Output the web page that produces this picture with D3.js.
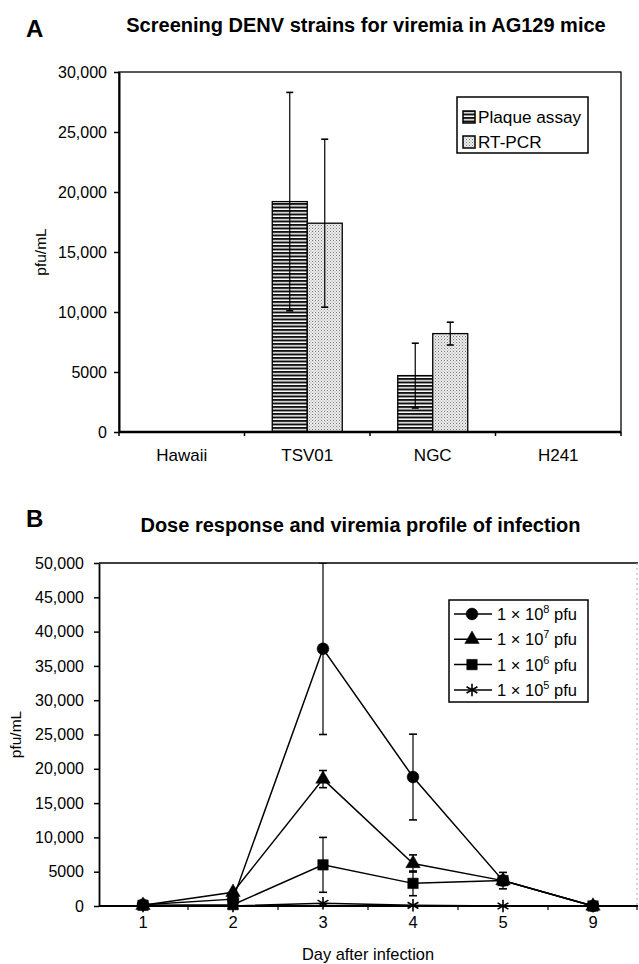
<!DOCTYPE html>
<html>
<head>
<meta charset="utf-8">
<script src="https://cdn.jsdelivr.net/npm/d3@7"></script>
<style>
    body { margin: 0; background: #fff; }
    svg { display: block; font-family: "Liberation Sans", Arial, sans-serif; }
</style>
</head>
<body>
<div id="figure"></div>
<script>
// Panel A data
const strains = ["Hawaii", "TSV01", "NGC", "H241"];
const methods = ["Plaque assay", "RT-PCR"];
const plaqueValues = [0, 19200, 4700, 0];
const plaqueErrors = [0, 9100, 2700, 0];
const rtpcrValues = [0, 17400, 8200, 0];
const rtpcrErrors = [0, 7000, 950, 0];
const ticksA = [0, 5000, 10000, 15000, 20000, 25000, 30000];

// Panel B data
const days = ["1", "2", "3", "4", "5", "9"];
const doseLabels = ["8", "7", "6", "5"];
const dose8 = [200, 1000, 37500, 18800, 3700, 0];
const dose8Err = [0, 0, 12500, 6250, 0, 0];
const dose7 = [100, 2000, 18500, 6200, 3700, 0];
const dose7Err = [0, 0, 1250, 1250, 0, 0];
const dose6 = [100, 200, 6000, 3300, 3700, 0];
const dose6Err = [0, 0, 4000, 1800, 1200, 0];
const dose5 = [0, 0, 400, 100, 0, 0];
const dose5Err = [0, 0, 0, 0, 0, 0];
const ticksB = [0, 5000, 10000, 15000, 20000, 25000, 30000, 35000, 40000, 45000, 50000];

const width = 639;
const height = 964;
const tickFmt = d => d >= 10000 ? d3.format(",")(d) : String(d);

const svg = d3.select("#figure")
    .append("svg")
    .attr("width", width)
    .attr("height", height)
    .attr("viewBox", `0, 0, ${width}, ${height}`);

// patterns for bars
const defs = svg.append("defs");
const stripes = defs.append("pattern")
    .attr("id", "stripes")
    .attr("patternUnits", "userSpaceOnUse")
    .attr("width", 6)
    .attr("height", 3.5);
stripes.append("rect").attr("width", 6).attr("height", 3.5).attr("fill", "#fff");
stripes.append("rect").attr("width", 6).attr("height", 2).attr("fill", "#111");

const dots = defs.append("pattern")
    .attr("id", "dots")
    .attr("patternUnits", "userSpaceOnUse")
    .attr("width", 3)
    .attr("height", 3);
dots.append("rect").attr("width", 3).attr("height", 3).attr("fill", "#eee");
dots.append("rect").attr("x", 0).attr("y", 0).attr("width", 1).attr("height", 1).attr("fill", "#777");
dots.append("rect").attr("x", 1.5).attr("y", 1.5).attr("width", 1).attr("height", 1).attr("fill", "#999");

const drawPanelA = () => {
    const left = 119, right = 621, top = 72, bottom = 432;
    const g = svg.append("g").attr("class", "panel-a");

    g.append("text")
        .text("A")
        .attr("x", 26).attr("y", 37)
        .attr("font-size", 24).attr("font-weight", "bold");
    g.append("text")
        .text("Screening DENV strains for viremia in AG129 mice")
        .attr("x", (124 + 608) / 2).attr("y", 32)
        .attr("text-anchor", "middle")
        .attr("font-size", 20).attr("font-weight", "bold");

    const xScale = d3.scaleBand().domain(strains).range([left, right]);
    const xInner = d3.scaleBand().domain(methods).range([0, 70]);
    const yScale = d3.scaleLinear().domain([0, 30000]).range([bottom, top]);

    // frame
    g.append("rect")
        .attr("x", left).attr("y", top)
        .attr("width", right - left).attr("height", bottom - top)
        .attr("fill", "none").attr("stroke", "#000").attr("stroke-width", 1.3);

    const leftAxis = d3.axisLeft(yScale)
        .tickValues(ticksA)
        .tickFormat(tickFmt)
        .tickSizeInner(5).tickSizeOuter(0)
        .tickPadding(7);
    const axisY = g.append("g")
        .attr("transform", `translate(${left}, 0)`)
        .call(leftAxis);
    axisY.select(".domain").attr("stroke-width", 2);
    axisY.selectAll("text").attr("font-size", 16).attr("font-family", "Liberation Sans, Arial").attr("fill", "#000");
    axisY.selectAll("line").attr("stroke-width", 1.5);

    g.append("text")
        .text("pfu/mL")
        .attr("transform", `translate(46, ${(top + bottom) / 2}) rotate(-90)`)
        .attr("text-anchor", "middle")
        .attr("font-size", 15.5);

    // bars
    const series = [
        { key: methods[0], values: plaqueValues, errors: plaqueErrors, fill: "url(#stripes)" },
        { key: methods[1], values: rtpcrValues, errors: rtpcrErrors, fill: "url(#dots)" }
    ];
    const off = (xScale.bandwidth() - 70) / 2;
    series.forEach(s => {
        const rows = strains.map((st, i) => ({ strain: st, v: s.values[i], e: s.errors[i] })).filter(d => d.v > 0);
        g.append("g")
            .selectAll("rect")
            .data(rows)
            .join("rect")
            .attr("x", d => xScale(d.strain) + off + xInner(s.key))
            .attr("y", d => yScale(d.v))
            .attr("width", xInner.bandwidth())
            .attr("height", d => yScale(0) - yScale(d.v))
            .attr("fill", s.fill)
            .attr("stroke", "#000")
            .attr("stroke-width", 1.3);

        const err = g.append("g")
            .selectAll("g")
            .data(rows)
            .join("g")
            .attr("transform", d => `translate(${xScale(d.strain) + off + xInner(s.key) + xInner.bandwidth() / 2}, 0)`);
        err.append("line")
            .attr("y1", d => yScale(d.v + d.e)).attr("y2", d => yScale(d.v - d.e))
            .attr("stroke", "#000").attr("stroke-width", 1.2);
        err.append("line")
            .attr("x1", -3.5).attr("x2", 3.5)
            .attr("y1", d => yScale(d.v + d.e)).attr("y2", d => yScale(d.v + d.e))
            .attr("stroke", "#000").attr("stroke-width", 1.6);
        err.append("line")
            .attr("x1", -3.5).attr("x2", 3.5)
            .attr("y1", d => yScale(d.v - d.e)).attr("y2", d => yScale(d.v - d.e))
            .attr("stroke", "#000").attr("stroke-width", 1.6);
    });

    // x axis
    g.append("line")
        .attr("x1", left).attr("x2", right)
        .attr("y1", bottom).attr("y2", bottom)
        .attr("stroke", "#000").attr("stroke-width", 2.5);
    const bounds = strains.map(s => xScale(s)).concat([right]);
    g.append("g")
        .selectAll("line")
        .data(bounds)
        .join("line")
        .attr("x1", d => d).attr("x2", d => d)
        .attr("y1", bottom).attr("y2", bottom + 4)
        .attr("stroke", "#000").attr("stroke-width", 1.5);
    g.append("g")
        .selectAll("text")
        .data(strains)
        .join("text")
        .text(d => d)
        .attr("x", d => xScale(d) + xScale.bandwidth() / 2)
        .attr("y", 461)
        .attr("text-anchor", "middle")
        .attr("font-size", 17);

    // legend
    const legend = g.append("g").attr("transform", "translate(457, 97)");
    legend.append("rect")
        .attr("width", 131).attr("height", 56)
        .attr("fill", "#fff").attr("stroke", "#000").attr("stroke-width", 1.5);
    series.forEach((s, i) => {
        const row = legend.append("g").attr("transform", `translate(6, ${20 + i * 25})`);
        row.append("rect")
            .attr("x", 0).attr("y", -6).attr("width", 12).attr("height", 12)
            .attr("fill", s.fill).attr("stroke", "#000").attr("stroke-width", 1.5);
        row.append("text")
            .text(s.key)
            .attr("x", 15).attr("y", 6)
            .attr("font-size", 17.2);
    });
};

const drawPanelB = () => {
    const left = 99, right = 638, top = 563, bottom = 906;
    const g = svg.append("g").attr("class", "panel-b");

    g.append("text")
        .text("B")
        .attr("x", 26).attr("y", 527)
        .attr("font-size", 24).attr("font-weight", "bold");
    g.append("text")
        .text("Dose response and viremia profile of infection")
        .attr("x", (132 + 589) / 2).attr("y", 532)
        .attr("text-anchor", "middle")
        .attr("font-size", 20).attr("font-weight", "bold");

    const xScale = d3.scaleBand().domain(days).range([left - 1, right]);
    const yScale = d3.scaleLinear().domain([0, 50000]).range([bottom, top]);

    g.append("line")
        .attr("x1", left).attr("x2", right)
        .attr("y1", top).attr("y2", top)
        .attr("stroke", "#000").attr("stroke-width", 1.5);
    g.append("line")
        .attr("x1", right - 1).attr("x2", right - 1)
        .attr("y1", top).attr("y2", bottom)
        .attr("stroke", "#aaa").attr("stroke-width", 1)
        .attr("stroke-dasharray", "2,3");

    const leftAxis = d3.axisLeft(yScale)
        .tickValues(ticksB)
        .tickFormat(tickFmt)
        .tickSizeInner(5).tickSizeOuter(0)
        .tickPadding(10);
    const axisY = g.append("g")
        .attr("transform", `translate(${left}, 0)`)
        .call(leftAxis);
    axisY.select(".domain").attr("stroke-width", 1.8);
    axisY.selectAll("text").attr("font-size", 16).attr("font-family", "Liberation Sans, Arial").attr("fill", "#000");
    axisY.selectAll("line").attr("stroke-width", 1.5);

    g.append("text")
        .text("pfu/mL")
        .attr("transform", `translate(21, ${(top + bottom) / 2}) rotate(-90)`)
        .attr("text-anchor", "middle")
        .attr("font-size", 15.5);

    const series = [
        { values: dose8, errors: dose8Err, symbol: d3.symbolCircle, size: 110 },
        { values: dose7, errors: dose7Err, symbol: d3.symbolTriangle, size: 90 },
        { values: dose6, errors: dose6Err, symbol: d3.symbolSquare, size: 110 },
        { values: dose5, errors: dose5Err, symbol: d3.symbolAsterisk, size: 110, stroke: true }
    ];
    const cx = d => xScale(d) + xScale.bandwidth() / 2;

    const clip = defs.append("clipPath").attr("id", "clip-b");
    clip.append("rect").attr("x", left).attr("y", top).attr("width", right - left).attr("height", bottom - top + 10);

    const plot = g.append("g").attr("clip-path", "url(#clip-b)");
    const line = d3.line()
        .x(d => cx(d.day))
        .y(d => yScale(d.v));

    // drawing order: lowest dose first, then 10^8 to 10^6 so squares sit on top
    [series[3], series[0], series[1], series[2]].forEach(s => {
        const rows = days.map((day, i) => ({ day: day, v: s.values[i], e: s.errors[i] }));
        plot.append("path")
            .attr("d", line(rows))
            .attr("fill", "none")
            .attr("stroke", "#000")
            .attr("stroke-width", 1.5);

        const err = plot.append("g")
            .selectAll("g")
            .data(rows.filter(d => d.e > 0))
            .join("g")
            .attr("transform", d => `translate(${cx(d.day)}, 0)`);
        err.append("line")
            .attr("y1", d => yScale(d.v + d.e)).attr("y2", d => yScale(d.v - d.e))
            .attr("stroke", "#000").attr("stroke-width", 1.2);
        [1, -1].forEach(sign => {
            err.append("line")
                .attr("x1", -4).attr("x2", 4)
                .attr("y1", d => yScale(d.v + sign * d.e)).attr("y2", d => yScale(d.v + sign * d.e))
                .attr("stroke", "#000").attr("stroke-width", 1.6);
        });

        plot.append("g")
            .selectAll("path")
            .data(rows)
            .join("path")
            .attr("d", d3.symbol().type(s.symbol).size(s.size))
            .attr("transform", d => `translate(${cx(d.day)}, ${yScale(d.v)})`)
            .attr("fill", s.stroke ? "none" : "#000")
            .attr("stroke", "#000")
            .attr("stroke-width", s.stroke ? 1.6 : 0.5);
    });

    // x axis
    g.append("line")
        .attr("x1", left).attr("x2", right)
        .attr("y1", bottom).attr("y2", bottom)
        .attr("stroke", "#000").attr("stroke-width", 2);
    const bounds = days.slice(1).map(d => xScale(d)).concat([right - 1]);
    g.append("g")
        .selectAll("line")
        .data(bounds)
        .join("line")
        .attr("x1", d => d).attr("x2", d => d)
        .attr("y1", bottom).attr("y2", bottom + 4)
        .attr("stroke", "#000").attr("stroke-width", 1.2);
    g.append("g")
        .selectAll("text")
        .data(days)
        .join("text")
        .text(d => d)
        .attr("x", d => cx(d))
        .attr("y", 928)
        .attr("text-anchor", "middle")
        .attr("font-size", 16.5);
    g.append("text")
        .text("Day after infection")
        .attr("x", 368).attr("y", 960)
        .attr("text-anchor", "middle")
        .attr("font-size", 16.4);

    // legend
    const legend = g.append("g").attr("transform", "translate(449, 600)");
    legend.append("rect")
        .attr("width", 139).attr("height", 102)
        .attr("fill", "#fff").attr("stroke", "#000").attr("stroke-width", 1.5);
    series.forEach((s, i) => {
        const row = legend.append("g").attr("transform", `translate(0, ${14 + i * 25.3})`);
        row.append("line")
            .attr("x1", 5).attr("x2", 43)
            .attr("stroke", "#000").attr("stroke-width", 1.5);
        row.append("path")
            .attr("d", d3.symbol().type(s.symbol).size(s.size))
            .attr("transform", "translate(23, 0)")
            .attr("fill", s.stroke ? "none" : "#000")
            .attr("stroke", "#000")
            .attr("stroke-width", s.stroke ? 1.6 : 0.5);
        const t = row.append("text")
            .attr("x", 48).attr("y", 6)
            .attr("font-size", 16.5);
        t.append("tspan").text("1 \u00d7 10");
        t.append("tspan").text(doseLabels[i])
            .attr("font-size", 11).attr("dy", -7);
        t.append("tspan").text(" pfu").attr("dy", 7);
    });
};

drawPanelA();
drawPanelB();
</script>
</body>
</html>
